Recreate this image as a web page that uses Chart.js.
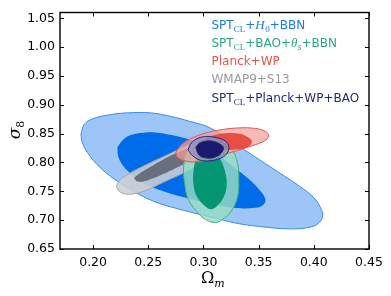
<!DOCTYPE html>
<html><head><meta charset="utf-8">
<script src="https://cdn.jsdelivr.net/npm/chart.js@4/dist/chart.umd.min.js"></script>
<style>html,body{margin:0;padding:0;background:#fff;}#wrap{width:391px;height:296px;}</style>
</head><body><div id="wrap"><canvas id="c" width="391" height="296"></canvas></div>
<script>
// ---- axis ticks ----
const xTicks = [0.20, 0.25, 0.30, 0.35, 0.40, 0.45];
const yTicks = [0.65, 0.70, 0.75, 0.80, 0.85, 0.90, 0.95, 1.00, 1.05];

// ---- contours (Omega_m, sigma_8) ----
// SPT_CL + H0 + BBN
const sptH0_2s_x = [0.189,0.192,0.200,0.216,0.231,0.252,0.270,0.288,0.306,0.333,0.360,0.387,0.400,0.406,0.408,0.405,0.397,0.378,0.351,0.329,0.306,0.282,0.252,0.225,0.207,0.195,0.190];
const sptH0_2s_y = [0.849,0.866,0.876,0.883,0.886,0.886,0.880,0.871,0.860,0.827,0.793,0.759,0.739,0.722,0.708,0.696,0.688,0.685,0.689,0.695,0.706,0.717,0.735,0.764,0.790,0.817,0.836];
const sptH0_1s_x = [0.222,0.226,0.232,0.243,0.256,0.272,0.288,0.306,0.324,0.340,0.350,0.356,0.354,0.344,0.330,0.308,0.284,0.261,0.243,0.229,0.223];
const sptH0_1s_y = [0.826,0.837,0.846,0.851,0.852,0.847,0.839,0.824,0.797,0.773,0.754,0.737,0.726,0.721,0.721,0.728,0.739,0.752,0.768,0.790,0.809];
// WMAP9 + S13
const wmap_2s_x = [0.221,0.224,0.232,0.247,0.267,0.288,0.302,0.313,0.320,0.321,0.315,0.302,0.284,0.265,0.247,0.234,0.225];
const wmap_2s_y = [0.758,0.769,0.780,0.795,0.813,0.832,0.842,0.847,0.844,0.837,0.825,0.804,0.784,0.767,0.751,0.745,0.748];
const wmap_1s_x = [0.237,0.243,0.256,0.274,0.293,0.306,0.312,0.310,0.297,0.279,0.261,0.247,0.240];
const wmap_1s_y = [0.773,0.782,0.797,0.815,0.829,0.837,0.836,0.826,0.812,0.794,0.778,0.768,0.767];
// SPT_CL + BAO + theta_s + BBN
const sptBAO_2s_x = [0.306,0.317,0.326,0.331,0.332,0.331,0.325,0.317,0.311,0.302,0.293,0.286,0.283,0.282,0.285,0.293];
const sptBAO_2s_y = [0.848,0.841,0.822,0.798,0.768,0.741,0.715,0.701,0.696,0.701,0.717,0.737,0.763,0.793,0.819,0.837];
const sptBAO_1s_x = [0.302,0.310,0.316,0.320,0.321,0.318,0.312,0.307,0.301,0.294,0.291,0.291,0.294];
const sptBAO_1s_y = [0.820,0.819,0.803,0.781,0.759,0.739,0.724,0.719,0.725,0.741,0.761,0.785,0.807];
// Planck + WP
const planck_2s_x = [0.275,0.279,0.288,0.302,0.317,0.333,0.347,0.356,0.359,0.355,0.344,0.331,0.319,0.306,0.293,0.283,0.276];
const planck_2s_y = [0.817,0.829,0.841,0.851,0.857,0.860,0.859,0.854,0.846,0.837,0.829,0.821,0.814,0.805,0.801,0.803,0.810];
const planck_1s_x = [0.295,0.302,0.311,0.322,0.333,0.340,0.344,0.340,0.331,0.320,0.308,0.299];
const planck_1s_y = [0.832,0.841,0.848,0.851,0.850,0.844,0.836,0.827,0.823,0.822,0.822,0.825];
// SPT_CL + Planck + WP + BAO
const combo_2s_x = [0.286,0.289,0.295,0.303,0.312,0.320,0.323,0.321,0.315,0.306,0.297,0.290];
const combo_2s_y = [0.822,0.834,0.842,0.845,0.843,0.837,0.827,0.815,0.807,0.803,0.804,0.812];
const combo_ring_x = [0.290,0.294,0.303,0.313,0.319,0.317,0.305,0.294];
const combo_ring_y = [0.824,0.834,0.839,0.836,0.826,0.814,0.807,0.811];
const combo_1s_x = [0.293,0.296,0.302,0.308,0.314,0.318,0.316,0.310,0.302,0.296];
const combo_1s_y = [0.826,0.833,0.837,0.837,0.833,0.826,0.816,0.809,0.808,0.813];

// ---- legend ----
const legendNames = [
  [['SPT',''],['CL','sub'],['+',''],['H','it'],['0','sub'],['+BBN','']],
  [['SPT',''],['CL','sub'],['+BAO+',''],['\u03B8','it'],['s','subit'],['+BBN','']],
  [['Planck+WP','']],
  [['WMAP9+S13','']],
  [['SPT',''],['CL','sub'],['+Planck+WP+BAO','']]
];
const legendColors = ['#1f78ea','#2aa878','#ec5548','#999999','#232a7c'];

function loop(xs, ys){ const p = xs.map((x,i)=>({x:x, y:ys[i]})); p.push(p[0]); return p; }
function ds(xs, ys, fillC, lineC, order, bw){
  return {data: loop(xs,ys), backgroundColor: fillC, borderColor: lineC, borderWidth: bw===undefined?1:bw,
    fill: 'shape', pointRadius: 0, tension: 0.4, order: order};
}

const datasets = [
  ds(sptH0_2s_x, sptH0_2s_y, 'rgba(158,197,247,1)', 'rgba(55,140,240,1)', 20),
  ds(sptH0_1s_x, sptH0_1s_y, 'rgba(0,108,234,1)', 'rgba(0,108,234,1)', 19, 0),
  ds(wmap_2s_x, wmap_2s_y, 'rgba(205,207,212,0.88)', 'rgba(165,165,165,1)', 18),
  ds(wmap_1s_x, wmap_1s_y, 'rgba(100,108,120,0.95)', 'rgba(100,108,120,1)', 17, 0),
  ds(sptBAO_2s_x, sptBAO_2s_y, 'rgba(150,220,195,0.82)', 'rgba(60,180,120,1)', 16),
  ds(sptBAO_1s_x, sptBAO_1s_y, 'rgba(0,148,112,0.97)', 'rgba(0,148,112,1)', 15, 0),
  ds(planck_2s_x, planck_2s_y, 'rgba(242,160,155,0.72)', 'rgba(232,85,80,1)', 14),
  ds(planck_1s_x, planck_1s_y, 'rgba(230,72,58,0.92)', 'rgba(230,72,58,1)', 13, 0),
  ds(combo_2s_x, combo_2s_y, 'rgba(140,140,205,0.75)', 'rgba(35,40,125,1)', 12),
  ds(combo_ring_x, combo_ring_y, 'rgba(0,0,0,0)', 'rgba(120,160,140,1)', 11),
  ds(combo_1s_x, combo_1s_y, 'rgba(25,25,112,1)', 'rgba(35,40,125,1)', 10)
];

const decor = {
  id: 'decor',
  afterDraw(chart){
    const ctx = chart.ctx, a = chart.chartArea, sx = chart.scales.x, sy = chart.scales.y;
    ctx.save();
    ctx.strokeStyle = '#000';
    ctx.lineWidth = 1.4;
    ctx.strokeRect(a.left, a.top, a.right - a.left, a.bottom - a.top);
    ctx.lineWidth = 1;
    ctx.beginPath();
    xTicks.forEach(v => { const p = Math.round(sx.getPixelForValue(v)) + 0.5;
      ctx.moveTo(p, a.top); ctx.lineTo(p, a.top + 4); ctx.moveTo(p, a.bottom); ctx.lineTo(p, a.bottom - 4); });
    yTicks.forEach(v => { const p = Math.round(sy.getPixelForValue(v)) + 0.5;
      ctx.moveTo(a.left, p); ctx.lineTo(a.left + 4, p); ctx.moveTo(a.right, p); ctx.lineTo(a.right - 4, p); });
    ctx.stroke();

    // legend (coloured text)
    const fonts = {'': '12px "DejaVu Sans"', it: 'italic 13px "Liberation Serif"', sub: '9px "Liberation Serif"', subit: 'italic 9.5px "Liberation Serif"'};
    ctx.textBaseline = 'alphabetic'; ctx.textAlign = 'left';
    legendNames.forEach((parts, i) => {
      let x = 211.5; const base = 28.5 + i * 18.3;
      ctx.fillStyle = legendColors[i];
      parts.forEach(([t, s]) => {
        ctx.font = fonts[s];
        const dy = (s === 'sub' || s === 'subit') ? 3 : 0;
        ctx.fillText(t, x, base + dy);
        x += ctx.measureText(t).width + (s === 'it' ? 0.5 : 0);
      });
    });

    // axis titles
    ctx.fillStyle = '#000';
    // x: Omega_m
    const xs = 201;
    ctx.font = '16px "DejaVu Serif"';
    const wO = ctx.measureText('\u03A9').width;
    ctx.fillText('\u03A9', xs, 283);
    ctx.font = 'italic 11px "DejaVu Serif"'; ctx.fillText('m', xs + wO, 287);
    // y: sigma_8
    ctx.translate(20, 130); ctx.rotate(-Math.PI / 2);
    ctx.font = 'italic 17px "DejaVu Serif"';
    const ws = ctx.measureText('\u03C3').width;
    ctx.font = '11px "DejaVu Serif"';
    const w8 = ctx.measureText('8').width;
    const x0 = -(ws + w8) / 2;
    ctx.font = 'italic 17px "DejaVu Serif"'; ctx.fillText('\u03C3', x0, 0);
    ctx.font = '11px "DejaVu Serif"'; ctx.fillText('8', x0 + ws, 4);
    ctx.restore();
  }
};

new Chart(document.getElementById('c'), {
  type: 'line',
  data: { datasets: datasets },
  options: {
    responsive: false, animation: false, devicePixelRatio: 1,
    layout: { padding: { top: 8, right: 22, left: 0, bottom: 0 } },
    plugins: { legend: { display: false }, tooltip: { enabled: false } },
    scales: {
      x: { type: 'linear', min: 0.17, max: 0.45,
        afterBuildTicks: s => { s.ticks = xTicks.map(v => ({value: v})); },
        afterFit: s => { s.height = 47; },
        grid: { display: false, drawTicks: false }, border: { display: false },
        ticks: { padding: 6, color: '#000', font: { family: 'DejaVu Sans', size: 12.5 }, maxRotation: 0,
          callback: v => v.toFixed(2) } },
      y: { type: 'linear', min: 0.65, max: 1.06,
        afterBuildTicks: s => { s.ticks = yTicks.map(v => ({value: v})); },
        afterFit: s => { s.width = 60; },
        grid: { display: false, drawTicks: false }, border: { display: false },
        ticks: { padding: 5, color: '#000', font: { family: 'DejaVu Sans', size: 12.5 },
          callback: v => v.toFixed(2) } }
    }
  },
  plugins: [decor]
});
</script></body></html>
